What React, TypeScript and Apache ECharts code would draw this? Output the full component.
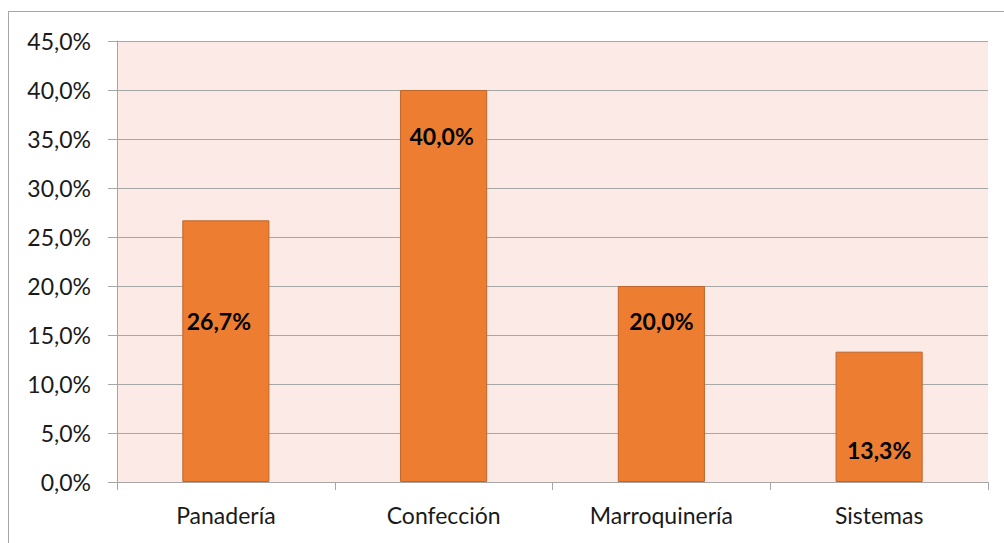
import React, { useEffect, useRef } from "react";
import * as echarts from "echarts";

const categories = ["Panadería", "Confección", "Marroquinería", "Sistemas"];
const values = [26.7, 40.0, 20.0, 13.3];
const yMin = 0;
const yMax = 45;
const yStep = 5;

// label placement (layout only): offsets from bar centre
const labelOffsets: [number, number][] = [
  [-7, -30],
  [-2, -150],
  [0, -63],
  [0, 33],
];

const fmt = (v: number) => v.toFixed(1).replace(".", ",") + "%";

export default function App() {
  const ref = useRef<HTMLDivElement>(null);
  useEffect(() => {
    if (!ref.current) return;
    const chart = echarts.init(ref.current, undefined, { renderer: "svg" });
    const font = "Lato, 'Open Sans', sans-serif";
    chart.setOption({
      animation: false,
      backgroundColor: "#ffffff",
      textStyle: { fontFamily: font },
      graphic: [
        { type: "line", shape: { x1: 8, y1: 11.5, x2: 1004, y2: 11.5 }, style: { stroke: "#A6A6A6", lineWidth: 1 } },
        { type: "line", shape: { x1: 8.5, y1: 11, x2: 8.5, y2: 543 }, style: { stroke: "#A6A6A6", lineWidth: 1 } },
      ],
      grid: {
        left: 117,
        right: 16,
        top: 41,
        bottom: 61,
        show: true,
        backgroundColor: "#FBEAE5",
        borderWidth: 0,
      },
      xAxis: {
        type: "category",
        data: categories,
        axisLine: { show: true, lineStyle: { color: "#A6A6A6", width: 1 } },
        axisTick: { show: true, alignWithLabel: false, length: 8, lineStyle: { color: "#A6A6A6" } },
        axisLabel: { color: "#1a1a1a", fontSize: 23, fontFamily: font, margin: 21 },
        splitLine: { show: false },
      },
      yAxis: {
        type: "value",
        min: yMin,
        max: yMax,
        interval: yStep,
        axisLine: { show: true, lineStyle: { color: "#A6A6A6", width: 1 } },
        axisTick: { show: true, length: 9, lineStyle: { color: "#A6A6A6" } },
        axisLabel: {
          color: "#1a1a1a",
          fontSize: 23,
          fontFamily: font,
          margin: 26,
          formatter: (v: number) => fmt(v),
        },
        splitLine: { show: true, lineStyle: { color: "#A6A6A6", width: 1 } },
      },
      series: [
        {
          type: "bar",
          barWidth: "40%",
          data: values.map((v, i) => ({
            value: v,
            label: { offset: labelOffsets[i] },
          })),
          itemStyle: { color: "#ED7D31", borderColor: "#C0652A", borderWidth: 1 },
          label: {
            show: true,
            position: "inside",
            color: "#000000",
            fontWeight: "bold",
            fontSize: 23,
            fontFamily: font,
            formatter: (p: any) => fmt(p.value),
          },
        },
      ],
    });
    return () => chart.dispose();
  }, []);
  return (
    <div
      ref={ref}
      style={{ position: "fixed", left: 0, top: 0, width: 1004, height: 543 }}
    />
  );
}
